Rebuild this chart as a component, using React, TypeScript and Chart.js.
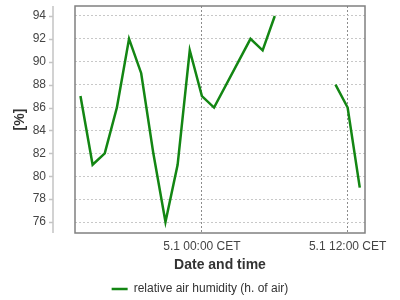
import React, { useEffect, useRef } from "react";
import { Chart, registerables } from "chart.js";

Chart.register(...registerables);

// Hours relative to 5.1 00:00 CET
const hours = [-10, -9, -8, -7, -6, -5, -4, -3, -2, -1, 0, 1, 4, 5, 6, 8, 11, 12, 13];
const humidity = [87, 81, 82, 86, 92, 89, 82, 76, 81, 91, 87, 86, 92, 91, 94, null, 88, 86, 79];
const xTickValues = [0, 12];
const xTickLabels = ["5.1 00:00 CET", "5.1 12:00 CET"];
const yTickValues = [76, 78, 80, 82, 84, 86, 88, 90, 92, 94];
const seriesLabel = "relative air humidity (h. of air)";
const xTitle = "Date and time";
const yTitle = "[%]";

const FONT = "'Liberation Sans', Arial, sans-serif";

const framePlugin = {
  id: "frame",
  beforeDatasetsDraw(chart: any) {
    const { ctx, chartArea: a } = chart;
    const yScale = chart.scales.y;
    const axisX = a.left - 22;
    ctx.save();
    ctx.strokeStyle = "#c4c4c4";
    ctx.lineWidth = 1.5;
    ctx.beginPath();
    ctx.moveTo(axisX, a.top);
    ctx.lineTo(axisX, a.bottom);
    for (const v of yTickValues) {
      const py = Math.round(yScale.getPixelForValue(v)) + 0.5;
      ctx.moveTo(axisX - 4, py);
      ctx.lineTo(axisX, py);
    }
    ctx.stroke();
    ctx.strokeStyle = "#808080";
    ctx.lineWidth = 1.5;
    ctx.strokeRect(a.left, a.top, a.right - a.left, a.bottom - a.top);
    ctx.restore();
  },
};

export default function App() {
  const ref = useRef<HTMLCanvasElement | null>(null);
  useEffect(() => {
    if (!ref.current) return;
    const chart = new Chart(ref.current, {
      type: "line",
      data: {
        datasets: [
          {
            label: seriesLabel,
            data: hours.map((h, i) => ({ x: h, y: humidity[i] as any })),
            borderColor: "#138613",
            backgroundColor: "#138613",
            borderWidth: 2.5,
            pointRadius: 0,
            tension: 0,
            spanGaps: false,
          },
        ],
      },
      options: {
        animation: false,
        responsive: false,
        layout: { padding: { top: 6, right: 0, left: 0, bottom: -5 } },
        plugins: {
          legend: {
            position: "bottom",
            labels: {
              usePointStyle: true,
              pointStyle: "line",
              pointStyleWidth: 16,
              boxHeight: 12,
              color: "#333",
              font: { family: FONT, size: 12 },
              padding: 0,
            },
          },
          tooltip: { enabled: false },
        },
        scales: {
          x: {
            type: "linear",
            min: -10.45,
            max: 13.43,
            afterBuildTicks: (s: any) => {
              s.ticks = xTickValues.map((v) => ({ value: v }));
            },
            afterFit: (s: any) => {
              s.height = 50;
              s.paddingLeft = 0;
              s.paddingRight = 35;
            },
            ticks: {
              callback: (v: any) => xTickLabels[xTickValues.indexOf(Number(v))] ?? "",
              color: "#444",
              font: { family: FONT, size: 12 },
              padding: 6,
              maxRotation: 0,
              autoSkip: false,
            },
            grid: { color: "#8c8c8c", lineWidth: 1, drawTicks: false, tickLength: 0 },
            border: { display: false, dash: [2, 2] },
            title: {
              display: true,
              text: xTitle,
              color: "#333",
              font: { family: FONT, size: 14, weight: "bold" },
              padding: { top: 0, bottom: 9.6 },
            },
          },
          y: {
            type: "linear",
            min: 75.04,
            max: 94.87,
            afterBuildTicks: (s: any) => {
              s.ticks = yTickValues.map((v) => ({ value: v }));
            },
            afterFit: (s: any) => {
              s.width = 75;
              s.paddingTop = 0;
              s.paddingBottom = 0;
            },
            ticks: {
              color: "#444",
              font: { family: FONT, size: 12 },
              padding: 29,
            },
            grid: { color: "#c8c8c8", lineWidth: 1, drawTicks: false, tickLength: 0 },
            border: { display: false, dash: [2, 2] },
            title: {
              display: true,
              text: yTitle,
              color: "#333",
              font: { family: FONT, size: 14, weight: "bold" },
              padding: { top: 12, bottom: 0 },
            },
          },
        },
      },
      plugins: [framePlugin],
    });
    return () => chart.destroy();
  }, []);
  return (
    <div style={{ position: "fixed", left: 0, top: 0, width: 400, height: 300, background: "#fff" }}>
      <canvas ref={ref} width={400} height={300} />
    </div>
  );
}
